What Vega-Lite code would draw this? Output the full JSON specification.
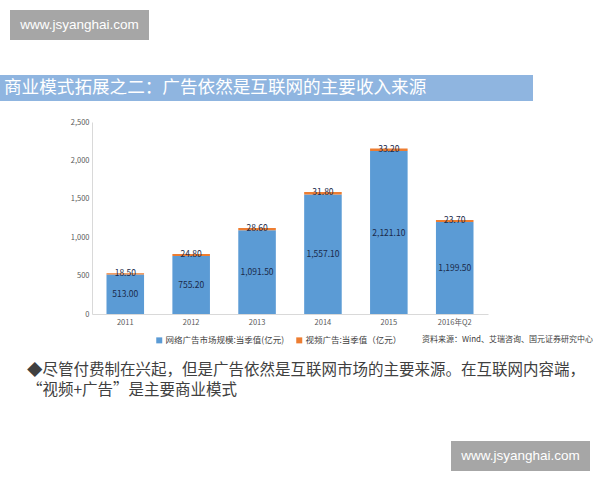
{
  "$schema": "https://vega.github.io/schema/vega-lite/v6.json",
  "padding": {"top": 10, "left": 0, "right": 0, "bottom": 0},
  "background": "white",
  "bounds": "full",
  "spacing": 0,
  "config": {
    "view": {"stroke": null},
    "font": "Noto Sans CJK SC",
    "title": {"fontWeight": "normal"}
  },
  "vconcat": [
    {
      "spacing": 1,
      "hconcat": [
        {"width": 9, "height": 30, "data": {"values": []}, "mark": "text"},
        {
          "width": 139,
          "height": 30,
          "view": {"fill": "#a6a6a6", "stroke": null},
          "data": {"values": [{"site": "www.jsyanghai.com"}]},
          "mark": {"type": "text", "color": "white", "fontSize": 13.5, "font": "Liberation Sans"},
          "encoding": {"text": {"field": "site"}}
        }
      ]
    },
    {"width": 1, "height": 35, "data": {"values": []}, "mark": "text"},
    {
      "width": 533,
      "height": 26,
      "view": {"fill": "#8fb5e0", "stroke": null},
      "data": {"values": []},
      "mark": "text",
      "title": {
        "text": "商业模式拓展之二：广告依然是互联网的主要收入来源",
        "anchor": "start",
        "orient": "top",
        "frame": "group",
        "offset": -22,
        "dx": 4,
        "fontSize": 17.6,
        "color": "white"
      }
    },
    {"width": 1, "height": 17, "data": {"values": []}, "mark": "text"},
    {
      "spacing": 0,
      "hconcat": [
        {"width": 70, "height": 1, "data": {"values": []}, "mark": "text"},
        {
          "width": 396,
          "height": 192,
          "title": {
            "text": "资料来源：Wind、艾瑞咨询、国元证券研究中心",
            "orient": "bottom",
            "anchor": "end",
            "frame": "group",
            "dx": 105,
            "offset": 10,
            "fontSize": 8,
            "color": "#404040"
          },
          "data": {
            "values": [
              {"year": "2011", "series": "网络广告市场规模:当季值(亿元)", "value": 513.0},
              {"year": "2011", "series": "视频广告:当季值（亿元）", "value": 18.5},
              {"year": "2012", "series": "网络广告市场规模:当季值(亿元)", "value": 755.2},
              {"year": "2012", "series": "视频广告:当季值（亿元）", "value": 24.8},
              {"year": "2013", "series": "网络广告市场规模:当季值(亿元)", "value": 1091.5},
              {"year": "2013", "series": "视频广告:当季值（亿元）", "value": 28.6},
              {"year": "2014", "series": "网络广告市场规模:当季值(亿元)", "value": 1557.1},
              {"year": "2014", "series": "视频广告:当季值（亿元）", "value": 31.8},
              {"year": "2015", "series": "网络广告市场规模:当季值(亿元)", "value": 2121.1},
              {"year": "2015", "series": "视频广告:当季值（亿元）", "value": 33.2},
              {"year": "2016年Q2", "series": "网络广告市场规模:当季值(亿元)", "value": 1199.5},
              {"year": "2016年Q2", "series": "视频广告:当季值（亿元）", "value": 23.7}
            ]
          },
          "encoding": {
            "x": {
              "field": "year",
              "type": "nominal",
              "sort": null,
              "title": null,
              "scale": {"paddingInner": 0.43, "paddingOuter": 0.22},
              "axis": {
                "labelAngle": 0,
                "labelFontSize": 7.5,
                "labelColor": "#595959",
                "labelPadding": 4,
                "ticks": false,
                "domainColor": "#d9d9d9"
              }
            }
          },
          "layer": [
            {
              "mark": {"type": "bar"},
              "encoding": {
                "y": {
                  "field": "value",
                  "type": "quantitative",
                  "stack": "zero",
                  "title": null,
                  "scale": {"domain": [0, 2500]},
                  "axis": {
                    "values": [0, 500, 1000, 1500, 2000, 2500],
                    "format": ",.0f",
                    "grid": false,
                    "ticks": false,
                    "labelFontSize": 7.5,
                    "labelColor": "#595959",
                    "labelPadding": 3,
                    "domainColor": "#d9d9d9"
                  }
                },
                "color": {
                  "field": "series",
                  "type": "nominal",
                  "scale": {
                    "domain": ["网络广告市场规模:当季值(亿元)", "视频广告:当季值（亿元）"],
                    "range": ["#5b9bd5", "#ed7d31"]
                  },
                  "legend": {
                    "orient": "none",
                    "legendX": 155,
                    "legendY": 326,
                    "direction": "horizontal",
                    "title": null,
                    "symbolType": "square",
                    "symbolSize": 36,
                    "symbolStrokeWidth": 0,
                    "labelFontSize": 8.5,
                    "labelColor": "#404040",
                    "labelOffset": 2,
                    "columnPadding": 10,
                    "padding": 0
                  }
                },
                "order": {"field": "series", "sort": "ascending"}
              }
            },
            {
              "transform": [{"filter": {"field": "series", "equal": "网络广告市场规模:当季值(亿元)"}}],
              "mark": {"type": "text", "fontSize": 8.5, "color": "#1a2a4a", "baseline": "middle"},
              "encoding": {
                "y": {
                  "field": "value",
                  "type": "quantitative",
                  "scale": {"domain": [0, 5000]},
                  "axis": null
                },
                "text": {"field": "value", "type": "quantitative", "format": ",.2f"}
              }
            },
            {
              "transform": [
                {"stack": "value", "groupby": ["year"], "sort": [{"field": "series", "order": "ascending"}], "as": ["v0", "v1"]},
                {"filter": {"field": "series", "equal": "视频广告:当季值（亿元）"}}
              ],
              "mark": {"type": "text", "fontSize": 8.5, "color": "#1a2a4a", "baseline": "middle"},
              "encoding": {
                "y": {
                  "field": "v1",
                  "type": "quantitative",
                  "scale": {"domain": [0, 2500]},
                  "axis": null
                },
                "text": {"field": "value", "type": "quantitative", "format": ".2f"}
              }
            }
          ],
          "resolve": {"scale": {"y": "independent"}}
        }
      ]
    },
    {"width": 1, "height": 18, "data": {"values": []}, "mark": "text"},
    {
      "width": 560,
      "height": 1,
      "data": {"values": []},
      "mark": "text",
      "title": {
        "text": ["◆尽管付费制在兴起，但是广告依然是互联网市场的主要来源。在互联网内容端，", "　“视频+广告”是主要商业模式"],
        "orient": "bottom",
        "anchor": "start",
        "frame": "group",
        "offset": 0,
        "dx": 27,
        "fontSize": 15.5,
        "lineHeight": 20,
        "color": "#404040"
      }
    },
    {"width": 1, "height": 42, "data": {"values": []}, "mark": "text"},
    {
      "spacing": 1,
      "hconcat": [
        {"width": 450, "height": 30, "data": {"values": []}, "mark": "text"},
        {
          "width": 139,
          "height": 30,
          "view": {"fill": "#a6a6a6", "stroke": null},
          "data": {"values": [{"site": "www.jsyanghai.com"}]},
          "mark": {"type": "text", "color": "white", "fontSize": 13.5, "font": "Liberation Sans"},
          "encoding": {"text": {"field": "site"}}
        }
      ]
    }
  ]
}
